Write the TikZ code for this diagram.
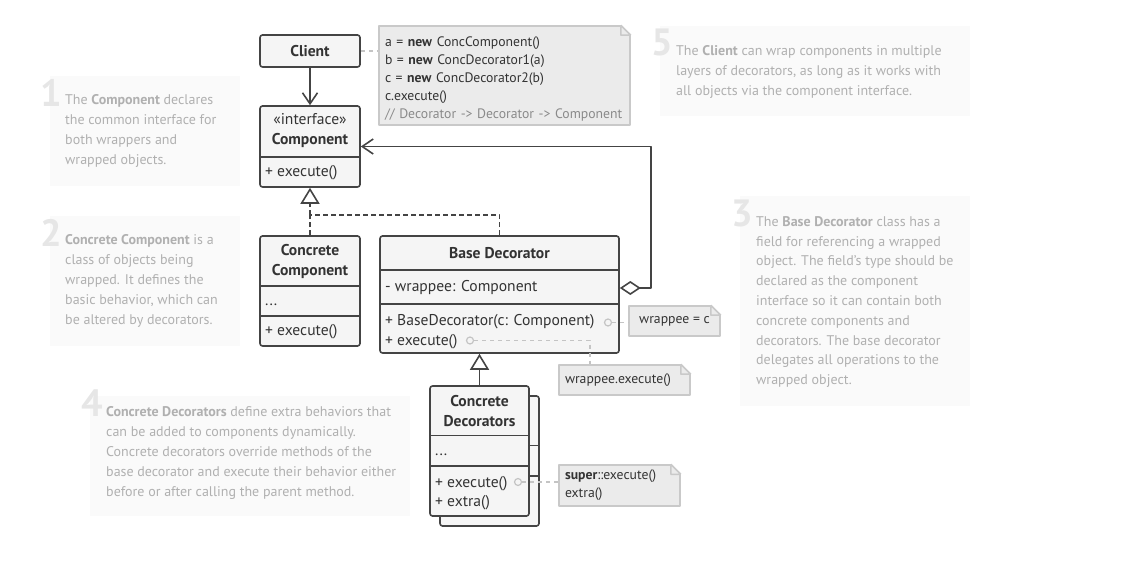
\documentclass[tikz,border=0pt]{standalone}
\usepackage{fontspec}
\setmainfont{PT Sans}
\usetikzlibrary{arrows.meta}

\definecolor{lineclr}{HTML}{444444}
\definecolor{boxfill}{HTML}{F5F5F5}
\definecolor{txtclr}{HTML}{333333}
\definecolor{notefill}{HTML}{EBEBEB}
\definecolor{noteline}{HTML}{C9C9C9}
\definecolor{connclr}{HTML}{C4C4C4}
\definecolor{remarkclr}{HTML}{8A8A8A}
\definecolor{cmtfill}{HTML}{FAFAFA}
\definecolor{cmtink}{HTML}{B0B0B0}
\definecolor{cmtdigit}{HTML}{E6E6E6}

% dog-ear on the top right corner of a note node
\newcommand{\foldcorner}[1]{%
  \fill[white] ([xshift=-10pt,yshift=1pt]#1.north east) -- ([xshift=1pt,yshift=1pt]#1.north east)
    -- ([xshift=1pt,yshift=-10pt]#1.north east) -- cycle;
  \draw[noteline, line width=1.5pt] ([xshift=-10pt]#1.north east) -- ([yshift=-10pt]#1.north east)
    ([xshift=-10pt]#1.north east) |- ([yshift=-10pt]#1.north east);
}

\begin{document}
\begin{tikzpicture}[x=1pt, y=-1pt, line join=round,
    cls/.style={draw=lineclr, fill=boxfill, line width=1.6pt, rounded corners=2.5pt, inner sep=0pt,
      text=txtclr, font=\fontsize{15.6}{20}\selectfont},
    divider/.style={draw=lineclr, line width=1.6pt},
    head/.style={align=center, inner sep=0pt, text=txtclr, font=\fontsize{15.6}{20}\selectfont},
    member/.style={anchor=base west, inner sep=0pt, text=txtclr, font=\fontsize{15.6}{20}\selectfont},
    port/.style={circle, draw=connclr, line width=1.2pt, fill=boxfill, minimum size=7pt, inner sep=0pt},
    note/.style={draw=noteline, fill=notefill, line width=1.5pt, inner xsep=6pt, inner ysep=0pt,
      text=txtclr, font=\fontsize{13.7}{18}\selectfont, align=left},
    noteconn/.style={draw=connclr, line width=1.5pt, dash pattern=on 4pt off 4pt},
    assoc/.style={draw=lineclr, line width=1.6pt, -{Straight Barb[length=11pt,width=15pt]}},
    inherit/.style={draw=lineclr, line width=1.6pt, -{Triangle[open,length=16pt,width=19pt]}},
    realize/.style={draw=lineclr, line width=1.6pt, dash pattern=on 5pt off 3pt},
    cmtbox/.style={fill=cmtfill, inner sep=0pt},
    cmttext/.style={anchor=west, align=left, inner sep=0pt, text=cmtink, font=\fontsize{14}{19.8}\selectfont},
    cmtnum/.style={anchor=base east, inner sep=0pt, text=cmtdigit, font=\fontsize{38}{38}\selectfont\bfseries}
  ]
  \useasboundingbox (0,0) rectangle (1136,561);

  % remarks
  \node[cmtbox, minimum width=190pt, minimum height=110pt] (c1) at (145,131) {};
  \node[cmtnum] (n1) at (62,107) {1};
  \node[cmttext] (t1) at (65,131) {The \textbf{Component} declares\\the common interface for\\both wrappers and\\wrapped objects.};

  \node[cmtbox, minimum width=190pt, minimum height=130pt] (c2) at (145,281) {};
  \node[cmtnum] (n2) at (62,247) {2};
  \node[cmttext] (t2) at (65,281) {\textbf{Concrete Component} is a\\class of objects being\\wrapped. It defines the\\basic behavior, which can\\be altered by decorators.};

  \node[cmtbox, minimum width=230pt, minimum height=210pt] (c3) at (855,301) {};
  \node[cmtnum] (n3) at (753,227) {3};
  \node[cmttext] (t3) at (756,302) {The \textbf{Base Decorator} class has a\\field for referencing a wrapped\\object. The field’s type should be\\declared as the component\\interface so it can contain both\\concrete components and\\decorators. The base decorator\\delegates all operations to the\\wrapped object.};

  \node[cmtbox, minimum width=320pt, minimum height=120pt] (c4) at (250,456) {};
  \node[cmtnum] (n4) at (103,417) {4};
  \node[cmttext] (t4) at (106,453) {\textbf{Concrete Decorators} define extra behaviors that\\can be added to components dynamically.\\Concrete decorators override methods of the\\base decorator and execute their behavior either\\before or after calling the parent method.};

  \node[cmtbox, minimum width=310pt, minimum height=90pt] (c5) at (815,71) {};
  \node[cmtnum] (n5) at (673,56) {5};
  \node[cmttext] (t5) at (676,72) {The \textbf{Client} can wrap components in multiple\\layers of decorators, as long as it works with\\all objects via the component interface.};

  % classes
  \node[cls, minimum width=100pt, minimum height=32pt, font=\fontsize{15.6}{20}\selectfont\bfseries] (client) at (310,51) {Client};

  \node[cls, minimum width=100pt, minimum height=81pt] (comp) at (310,146.5) {};
  \node[head] (comphead) at (310,131) {«interface»\\\textbf{Component}};
  \draw[divider] (comp.west |- 0,157) -- (comp.east |- 0,157);
  \node[member] (compexec) at (265,177) {+ execute()};

  \node[cls, minimum width=100pt, minimum height=110pt] (concomp) at (310,291) {};
  \node[head] (concomphead) at (310,261) {\textbf{Concrete}\\\textbf{Component}};
  \draw[divider] (concomp.west |- 0,286) -- (concomp.east |- 0,286);
  \draw[divider] (concomp.west |- 0,316) -- (concomp.east |- 0,316);
  \node[member] (concompdots) at (265,306) {...};
  \node[member] (concompexec) at (265,336) {+ execute()};

  \node[cls, minimum width=239pt, minimum height=117pt] (basedec) at (499.5,294.5) {};
  \node[head] (basedechead) at (499.5,253) {\textbf{Base Decorator}};
  \draw[divider] (basedec.west |- 0,270) -- (basedec.east |- 0,270);
  \draw[divider] (basedec.west |- 0,304) -- (basedec.east |- 0,304);
  \node[member] (wrappee) at (385,292) {- wrappee: Component};
  \node[member] (basedecctor) at (385,326) {+ BaseDecorator(c: Component)};
  \node[member] (basedecexec) at (385,346) {+ execute()};

  \node[cls, minimum width=99pt, minimum height=130pt] (concdecback) at (489.5,461) {};
  \draw[divider] (concdecback.west |- 0,445.5) -- (concdecback.east |- 0,445.5);
  \draw[divider] (concdecback.west |- 0,476) -- (concdecback.east |- 0,476);
  \node[cls, minimum width=99pt, minimum height=130pt] (concdec) at (479.5,451) {};
  \node[head] (concdechead) at (479.5,411) {\textbf{Concrete}\\\textbf{Decorators}};
  \draw[divider] (concdec.west |- 0,435.5) -- (concdec.east |- 0,435.5);
  \draw[divider] (concdec.west |- 0,466) -- (concdec.east |- 0,466);
  \node[member] (concdecdots) at (435,455) {...};
  \node[member] (concdecexec) at (435,487) {+ execute()};
  \node[member] (concdecextra) at (435,506) {+ extra()};

  % notes
  \node[note, minimum width=251pt, minimum height=99pt, text width=239pt] (codenote) at (504.5,75.5)
    {\rule{0pt}{16pt}a = \textbf{new} ConcComponent()\\b = \textbf{new} ConcDecorator1(a)\\c = \textbf{new} ConcDecorator2(b)\\c.execute()\\{\color{remarkclr}// Decorator -> Decorator -> Component}};
  \foldcorner{codenote}
  \node[note, minimum width=91pt, minimum height=30pt, align=center] (wrapnote) at (674.5,321) {wrappee = c};
  \foldcorner{wrapnote}
  \node[note, minimum width=131pt, minimum height=30pt, text width=119pt] (execnote) at (624.5,380) {wrappee.execute()};
  \foldcorner{execnote}
  \node[note, minimum width=121pt, minimum height=41pt, text width=109pt] (supernote) at (619.5,485.5)
    {\textbf{super}::execute()\\extra()};
  \foldcorner{supernote}

  % relations
  \draw[assoc] (client) -- (comp);
  \draw[assoc, {Diamond[open,length=21pt,width=14pt]}-{Straight Barb[length=11pt,width=15pt]}]
    (basedec.east |- wrappee) -- ++(31,0) |- (comp.east);
  \coordinate (fork) at (310,215);
  \draw[realize] (concomp) -- (fork);
  \draw[realize] (basedec.north) |- (fork);
  \draw[realize, -{Triangle[open,length=16pt,width=19pt]}] (fork) -- (comp);
  \draw[inherit] (concdec.north) -- (concdec.north |- basedec.south);

  % note links
  \node[port] (ctorport) at (608,322.5) {};
  \node[port] (execport) at (470,340.5) {};
  \node[port] (cdport) at (518,482) {};
  \draw[noteconn] (client.east) -- (client.east -| codenote.west);
  \draw[noteconn] (ctorport) -- (ctorport -| wrapnote.west);
  \draw[noteconn] (execport) -| ([xshift=-34.5pt]execnote.north);
  \draw[noteconn] (cdport) -- (cdport -| supernote.west);
\end{tikzpicture}
\end{document}
